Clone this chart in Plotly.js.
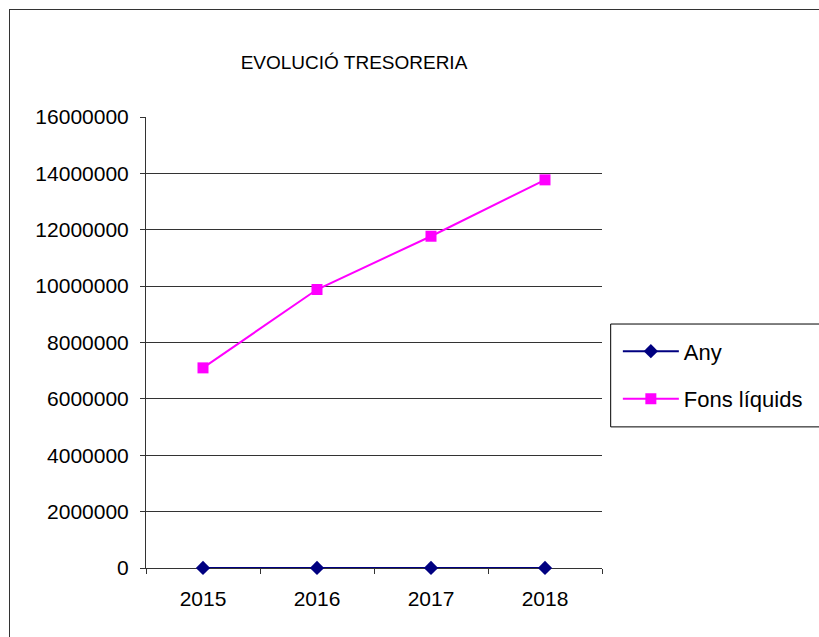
<!DOCTYPE html>
<html>
<head>
<meta charset="utf-8">
<script src="https://cdn.plot.ly/plotly-3.0.1.min.js"></script>
<style>
  html, body { margin: 0; padding: 0; background: #fff; }
  #chart { width: 819px; height: 637px; position: relative; }
  #frame { position: absolute; left: 9px; top: 9px; width: 900px; height: 700px;
           border-left: 1.5px solid #333; border-top: 1.5px solid #333; pointer-events: none; }
</style>
</head>
<body>
<div id="chart"></div>
<div id="frame"></div>
<script>
const years = ['2015', '2016', '2017', '2018'];
const anyValues = [2015, 2016, 2017, 2018];
const fonsLiquids = [7100000, 9880000, 11770000, 13770000];
const yTicks = [0, 2000000, 4000000, 6000000, 8000000, 10000000, 12000000, 14000000, 16000000];

const font = 'Liberation Sans, Arial, sans-serif';

const traces = [
  {
    x: years, y: anyValues, name: 'Any', type: 'scatter', mode: 'lines+markers',
    legendgroup: 'a', cliponaxis: false,
    line: { color: '#000080', width: 2 },
    marker: { symbol: 'diamond', size: 11, color: '#000080' }
  },
  {
    x: years, y: fonsLiquids, name: 'Fons líquids', type: 'scatter', mode: 'lines+markers',
    legendgroup: 'b', cliponaxis: false,
    line: { color: '#FF00FF', width: 2 },
    marker: { symbol: 'square', size: 11, color: '#FF00FF' }
  }
];

const layout = {
  width: 819, height: 637,
  margin: { l: 146, r: 216, t: 117, b: 69 },
  paper_bgcolor: '#fff', plot_bgcolor: '#fff',
  font: { family: font, color: '#000', size: 21 },
  title: {
    text: 'EVOLUCIÓ TRESORERIA',
    font: { family: font, size: 19, color: '#000' },
    xref: 'container', yref: 'container',
    x: 354 / 819, xanchor: 'center',
    y: 1 - 62 / 637, yanchor: 'middle'
  },
  showlegend: true,
  legend: {
    x: 1.0325, xanchor: 'left', y: 0.427, yanchor: 'middle',
    borderwidth: 0, bgcolor: 'rgba(0,0,0,0)',
    font: { family: font, size: 22, color: '#000' },
    itemwidth: 56, tracegroupgap: 16,
    traceorder: 'grouped'
  },
  shapes: [
    { type: 'rect', xref: 'paper', yref: 'paper', layer: 'below',
      x0: (612 - 146) / 457.3, x1: 1.6,
      y0: (568.3 - 427) / 451.6, y1: (568.3 - 324) / 451.6,
      line: { color: '#000', width: 1 }, fillcolor: '#fff' }
  ],
  xaxis: {
    type: 'category', range: [-0.5, 3.5], layer: 'below traces',
    tickson: 'boundaries', ticks: 'outside', ticklen: 5, tickcolor: '#333', tickwidth: 1,
    showline: true, linecolor: '#333', linewidth: 1,
    showgrid: false, zeroline: false,
    tickfont: { family: font, size: 21, color: '#000' },
    ticklabelstandoff: 12,
    fixedrange: true
  },
  yaxis: {
    range: [0, 16000000], tickvals: yTicks, ticktext: yTicks.map(String), layer: 'below traces',
    ticks: 'outside', ticklen: 5, tickcolor: '#333', tickwidth: 1,
    showline: true, linecolor: '#333', linewidth: 1,
    showgrid: true, gridcolor: '#333', gridwidth: 1,
    zeroline: false,
    tickfont: { family: font, size: 21, color: '#000' },
    ticklabelstandoff: 7,
    fixedrange: true
  }
};

Plotly.newPlot('chart', traces, layout, { displayModeBar: false, staticPlot: true });
</script>
</body>
</html>
